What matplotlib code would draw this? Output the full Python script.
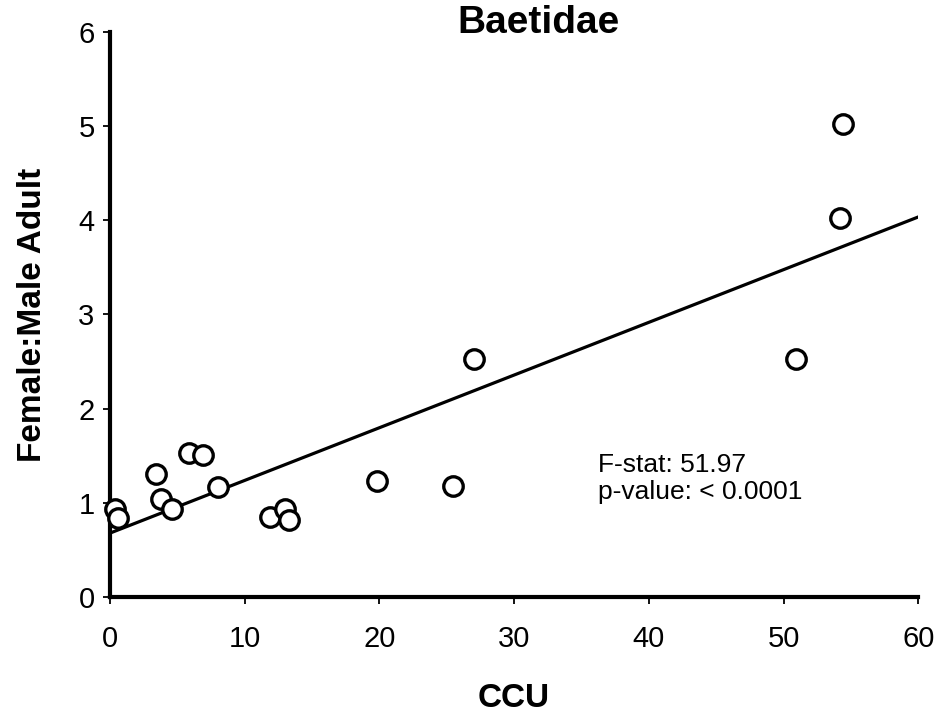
import numpy as np
import matplotlib
matplotlib.use("Agg")
import matplotlib.pyplot as plt

plt.rcParams['font.family'] = ['Liberation Sans', 'DejaVu Sans']

# CCU vs female:male adult ratio
ccu = [0.4, 0.6, 3.4, 3.8, 4.6, 5.9, 6.9, 8.0, 11.9, 13.0, 13.3,
       19.8, 25.5, 27.0, 50.9, 54.2, 54.4]
ratio = [0.93, 0.84, 1.30, 1.04, 0.93, 1.53, 1.51, 1.17, 0.85, 0.93, 0.82,
         1.23, 1.18, 2.53, 2.53, 4.02, 5.02]

# fitted line as drawn in the chart
intercept = 0.676
slope = 0.056
fit_x = [0, 60]

fig = plt.figure(figsize=(9.39, 7.13), dpi=100)
ax = fig.add_axes([0.117, 0.163, 0.861, 0.792])

ax.plot(fit_x, [intercept + slope * v for v in fit_x], color='black', lw=2.3, zorder=2)
ax.plot(ccu, ratio, 'o', ms=14, mfc='white', mec='black', mew=2.4, zorder=3,
        clip_on=False)

ax.set_xlim(0, 60)
ax.set_ylim(0, 6)
ax.set_xticks(range(0, 61, 10))
ax.set_yticks(range(0, 7))
ax.tick_params(labelsize=21, length=5, width=1.3, direction='out')
ax.tick_params(axis='x', pad=15)
ax.tick_params(axis='y', pad=6)

for s in ['top', 'right']:
    ax.spines[s].set_visible(False)
for s in ['left', 'bottom']:
    ax.spines[s].set_linewidth(3)

fig.text(0.573, 0.968, 'Baetidae', fontsize=28, fontweight='bold',
         ha='center', va='center')
ax.set_xlabel('CCU', fontsize=24, fontweight='bold', labelpad=22)
ax.set_ylabel('Female:Male Adult', fontsize=24, fontweight='bold', labelpad=22)

ax.text(36.2, 1.53, 'F-stat: 51.97\np-value: < 0.0001', fontsize=19,
        va='top', ha='left', linespacing=1.15)

fig.savefig('out.png', dpi=100)
